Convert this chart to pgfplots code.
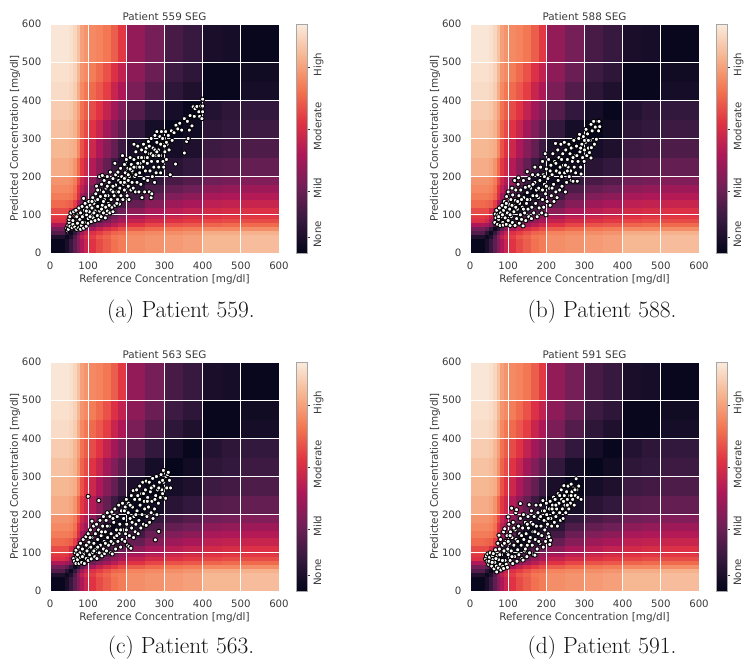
\documentclass[border=0pt]{standalone}
\usepackage{fontspec}
\setsansfont{DejaVu Sans}
\usepackage{pgfplots}
\usepackage{pgfplotstable}
\pgfplotsset{compat=1.18}
\definecolor{txt}{HTML}{3A3A3A}
\pgfplotsset{colormap={rocket}{
 rgb255(0)=(3,5,26) rgb255(1)=(53,25,62) rgb255(2)=(112,31,87) rgb255(3)=(173,23,89)
 rgb255(4)=(225,51,66) rgb255(5)=(243,118,81) rgb255(6)=(246,180,143) rgb255(7)=(250,235,221)}}
\pgfplotstableread[row sep=\\]{x y z\\
0 0 0.05\\40 0 0.25\\50 0 0.55\\60 0 0.9\\70 0 1.25\\80 0 1.6\\90 0 1.85\\100 0 2.1\\120 0 2.3\\140 0 2.45\\160 0 2.6\\180 0 2.7\\200 0 2.85\\250 0 2.9\\300 0 2.95\\350 0 3.0\\400 0 3.2\\450 0 3.2\\500 0 3.25\\600 0 3.25\\
0 40 0.3\\40 40 0.1\\50 40 0.3\\60 40 0.8\\70 40 1.35\\80 40 1.75\\90 40 2.0\\100 40 2.2\\120 40 2.4\\140 40 2.5\\160 40 2.65\\180 40 2.7\\200 40 2.85\\250 40 2.9\\300 40 2.95\\350 40 3.0\\400 40 3.2\\450 40 3.2\\500 40 3.25\\600 40 3.25\\
0 50 0.8\\40 50 0.4\\50 50 0.1\\60 50 0.5\\70 50 1.0\\80 50 1.5\\90 50 1.8\\100 50 2.05\\120 50 2.2\\140 50 2.35\\160 50 2.5\\180 50 2.55\\200 50 2.75\\250 50 2.8\\300 50 2.85\\350 50 2.9\\400 50 3.1\\450 50 3.1\\500 50 3.15\\600 50 3.15\\
0 60 1.1\\40 60 0.9\\50 60 0.5\\60 60 0.1\\70 60 0.4\\80 60 0.9\\90 60 1.25\\100 60 1.55\\120 60 1.8\\140 60 2.0\\160 60 2.15\\180 60 2.3\\200 60 2.45\\250 60 2.55\\300 60 2.65\\350 60 2.7\\400 60 2.8\\450 60 2.8\\500 60 2.85\\600 60 2.85\\
0 70 1.6\\40 70 1.5\\50 70 1.2\\60 70 0.65\\70 70 0.1\\80 70 0.3\\90 70 0.6\\100 70 1.0\\120 70 1.25\\140 70 1.5\\160 70 1.7\\180 70 1.9\\200 70 2.1\\250 70 2.25\\300 70 2.35\\350 70 2.4\\400 70 2.5\\450 70 2.55\\500 70 2.55\\600 70 2.55\\
0 80 2.05\\40 80 1.95\\50 80 1.6\\60 80 1.15\\70 80 0.6\\80 80 0.1\\90 80 0.3\\100 80 0.55\\120 80 0.85\\140 80 1.1\\160 80 1.35\\180 80 1.55\\200 80 1.8\\250 80 1.95\\300 80 2.05\\350 80 2.15\\400 80 2.25\\450 80 2.3\\500 80 2.3\\600 80 2.3\\
0 90 2.15\\40 90 2.1\\50 90 1.8\\60 90 1.4\\70 90 0.9\\80 90 0.3\\90 90 0.1\\100 90 0.3\\120 90 0.55\\140 90 0.85\\160 90 1.1\\180 90 1.35\\200 90 1.6\\250 90 1.75\\300 90 1.9\\350 90 2.0\\400 90 2.1\\450 90 2.15\\500 90 2.15\\600 90 2.15\\
0 100 2.3\\40 100 2.3\\50 100 2.0\\60 100 1.65\\70 100 1.15\\80 100 0.55\\90 100 0.35\\100 100 0.1\\120 100 0.25\\140 100 0.55\\160 100 0.8\\180 100 1.05\\200 100 1.3\\250 100 1.55\\300 100 1.7\\350 100 1.8\\400 100 1.95\\450 100 2.0\\500 100 2.05\\600 100 2.05\\
0 120 2.55\\40 120 2.5\\50 120 2.45\\60 120 2.2\\70 120 1.6\\80 120 1.1\\90 120 0.8\\100 120 0.5\\120 120 0.05\\140 120 0.2\\160 120 0.45\\180 120 0.7\\200 120 0.95\\250 120 1.25\\300 120 1.45\\350 120 1.55\\400 120 1.75\\450 120 1.8\\500 120 1.85\\600 120 1.85\\
0 140 2.7\\40 140 2.7\\50 140 2.65\\60 140 2.5\\70 140 2.0\\80 140 1.5\\90 140 1.2\\100 140 0.85\\120 140 0.35\\140 140 0.05\\160 140 0.2\\180 140 0.45\\200 140 0.65\\250 140 1.0\\300 140 1.2\\350 140 1.3\\400 140 1.55\\450 140 1.6\\500 140 1.65\\600 140 1.65\\
0 160 2.8\\40 160 2.8\\50 160 2.75\\60 160 2.6\\70 160 2.1\\80 160 1.75\\90 160 1.45\\100 160 1.1\\120 160 0.7\\140 160 0.3\\160 160 0.05\\180 160 0.2\\200 160 0.4\\250 160 0.75\\300 160 0.95\\350 160 1.05\\400 160 1.3\\450 160 1.35\\500 160 1.45\\600 160 1.45\\
0 180 2.9\\40 180 2.9\\50 180 2.85\\60 180 2.7\\70 180 2.3\\80 180 1.9\\90 180 1.65\\100 180 1.35\\120 180 0.95\\140 180 0.6\\160 180 0.25\\180 180 0.05\\200 180 0.15\\250 180 0.5\\300 180 0.7\\350 180 0.8\\400 180 1.05\\450 180 1.1\\500 180 1.2\\600 180 1.2\\
0 200 3.1\\40 200 3.1\\50 200 3.05\\60 200 2.9\\70 200 2.55\\80 200 2.15\\90 200 1.9\\100 200 1.65\\120 200 1.3\\140 200 0.95\\160 200 0.6\\180 200 0.35\\200 200 0.05\\250 200 0.2\\300 200 0.4\\350 200 0.5\\400 200 0.8\\450 200 0.85\\500 200 0.95\\600 200 0.95\\
0 250 3.2\\40 250 3.2\\50 250 3.15\\60 250 3.1\\70 250 2.8\\80 250 2.35\\90 250 2.1\\100 250 1.9\\120 250 1.6\\140 250 1.25\\160 250 0.95\\180 250 0.6\\200 250 0.25\\250 250 0.05\\300 250 0.2\\350 250 0.3\\400 250 0.6\\450 250 0.65\\500 250 0.75\\600 250 0.75\\
0 300 3.3\\40 300 3.3\\50 300 3.25\\60 300 3.15\\70 300 2.9\\80 300 2.5\\90 300 2.3\\100 300 2.1\\120 300 1.85\\140 300 1.5\\160 300 1.2\\180 300 0.9\\200 300 0.5\\250 300 0.2\\300 300 0.03\\350 300 0.15\\400 300 0.45\\450 300 0.5\\500 300 0.6\\600 300 0.6\\
0 350 3.4\\40 350 3.4\\50 350 3.35\\60 350 3.2\\70 350 3.0\\80 350 2.6\\90 350 2.45\\100 350 2.3\\120 350 2.1\\140 350 1.8\\160 350 1.5\\180 350 1.2\\200 350 0.8\\250 350 0.5\\300 350 0.2\\350 350 0.05\\400 350 0.35\\450 350 0.45\\500 350 0.5\\600 350 0.5\\
0 400 3.55\\40 400 3.55\\50 400 3.5\\60 400 3.4\\70 400 3.1\\80 400 2.8\\90 400 2.65\\100 400 2.55\\120 400 2.4\\140 400 2.2\\160 400 1.85\\180 400 1.6\\200 400 1.15\\250 400 0.8\\300 400 0.45\\350 400 0.3\\400 400 0.05\\450 400 0.05\\500 400 0.2\\600 400 0.2\\
0 450 3.6\\40 450 3.6\\50 450 3.55\\60 450 3.45\\70 450 3.2\\80 450 2.9\\90 450 2.8\\100 450 2.7\\120 450 2.55\\140 450 2.35\\160 450 2.05\\180 450 1.8\\200 450 1.3\\250 450 1.0\\300 450 0.6\\350 450 0.45\\400 450 0.05\\450 450 0.05\\500 450 0.15\\600 450 0.15\\
0 500 3.65\\40 500 3.65\\50 500 3.6\\60 500 3.5\\70 500 3.3\\80 500 3.0\\90 500 2.9\\100 500 2.8\\120 500 2.75\\140 500 2.65\\160 500 2.45\\180 500 2.15\\200 500 1.35\\250 500 1.1\\300 500 0.7\\350 500 0.55\\400 500 0.25\\450 500 0.2\\500 500 0.05\\600 500 0.05\\
0 600 3.65\\40 600 3.65\\50 600 3.6\\60 600 3.5\\70 600 3.3\\80 600 3.0\\90 600 2.9\\100 600 2.8\\120 600 2.75\\140 600 2.65\\160 600 2.45\\180 600 2.15\\200 600 1.35\\250 600 1.1\\300 600 0.7\\350 600 0.55\\400 600 0.25\\450 600 0.2\\500 600 0.05\\600 600 0.05\\
}\seg
\pgfplotstableread[row sep=\\]{x y\\
44 65\\46 58\\47 72\\48 62\\50 80\\52 70\\50 88\\52 95\\55 105\\58 66\\60 75\\62 108\\62 88\\65 68\\66 95\\68 112\\70 62\\72 78\\72 100\\75 66\\76 118\\78 88\\80 62\\80 105\\82 72\\84 122\\85 95\\88 65\\88 143\\90 80\\90 112\\92 130\\95 70\\96 100\\97 120\\100 78\\100 90\\102 135\\103 108\\105 125\\108 82\\110 118\\110 100\\112 145\\113 92\\115 130\\118 85\\118 110\\120 155\\120 138\\122 175\\124 98\\125 122\\128 88\\130 200\\130 165\\130 110\\132 148\\134 95\\135 180\\137 125\\137 203\\140 105\\140 160\\142 190\\143 140\\145 92\\146 120\\147 170\\150 110\\150 200\\152 150\\153 130\\155 185\\157 105\\158 212\\160 165\\160 140\\162 120\\165 195\\165 108\\168 150\\170 235\\170 125\\172 178\\172 205\\175 160\\177 140\\178 212\\180 190\\182 128\\183 170\\185 222\\186 150\\188 200\\190 255\\191 140\\192 180\\195 165\\195 232\\197 210\\200 190\\200 245\\202 150\\204 222\\205 175\\207 140\\208 200\\210 250\\212 165\\213 232\\215 185\\216 212\\218 170\\220 285\\220 245\\222 200\\224 160\\225 265\\226 225\\228 185\\230 280\\232 250\\233 160\\235 210\\236 235\\238 180\\240 270\\241 145\\243 225\\245 285\\246 195\\248 160\\250 250\\250 215\\252 275\\255 235\\256 190\\258 292\\260 160\\260 260\\262 215\\265 145\\265 300\\266 240\\267 155\\268 200\\270 275\\272 225\\274 185\\275 308\\276 255\\278 210\\280 290\\280 318\\282 240\\284 270\\285 225\\288 305\\290 255\\290 210\\292 318\\294 285\\296 240\\298 225\\300 300\\301 265\\303 318\\305 245\\307 285\\310 308\\312 270\\315 205\\318 320\\320 295\\325 315\\329 233\\330 335\\335 325\\340 340\\345 322\\352 262\\352 352\\358 292\\360 345\\362 300\\365 322\\367 360\\372 333\\375 383\\378 358\\380 378\\385 384\\390 370\\392 358\\395 385\\398 352\\400 370\\400 385\\400 403\\
60 85\\70 95\\85 80\\95 110\\105 95\\115 105\\125 140\\135 115\\145 150\\155 125\\165 175\\175 130\\185 185\\195 195\\205 205\\215 215\\225 205\\235 225\\245 240\\255 250\\265 260\\275 270\\285 255\\295 300\\305 290\\110 135\\125 165\\140 135\\150 175\\165 160\\180 160\\195 185\\205 190\\210 220\\220 225\\230 235\\240 250\\250 265\\260 280\\270 255\\280 265\\290 285\\300 280\\
}\ptsA
\pgfplotstableread[row sep=\\]{x y\\
65 80\\66 102\\68 92\\70 112\\72 75\\73 100\\75 88\\77 118\\79 72\\80 105\\82 95\\84 125\\86 80\\87 73\\88 112\\90 135\\92 92\\93 120\\95 75\\96 148\\98 105\\100 85\\100 160\\102 128\\104 115\\105 72\\107 140\\108 95\\110 170\\111 80\\112 152\\114 125\\115 108\\117 190\\118 72\\119 138\\120 165\\122 90\\124 115\\126 180\\127 197\\128 150\\129 78\\130 130\\132 100\\133 165\\135 88\\137 120\\139 71\\140 190\\141 145\\143 105\\145 172\\146 85\\148 130\\150 213\\150 158\\152 115\\154 95\\155 195\\157 140\\159 170\\161 90\\162 120\\164 205\\165 150\\167 105\\170 185\\170 225\\172 130\\174 165\\176 95\\178 205\\179 145\\181 118\\183 190\\185 225\\186 165\\188 105\\190 240\\190 140\\192 205\\193 120\\195 180\\197 260\\198 155\\199 100\\200 220\\202 135\\204 195\\206 245\\208 170\\210 125\\212 230\\213 150\\215 205\\217 260\\219 180\\220 135\\222 240\\224 287\\225 160\\226 215\\228 145\\230 270\\231 190\\233 250\\235 165\\236 225\\238 285\\240 200\\241 175\\243 260\\245 230\\247 290\\248 210\\250 160\\251 270\\253 185\\255 245\\257 225\\259 285\\260 200\\262 260\\264 215\\265 190\\267 275\\268 240\\270 188\\272 295\\273 225\\275 255\\277 210\\279 280\\281 188\\283 240\\285 300\\287 311\\288 265\\290 225\\291 207\\293 285\\295 250\\297 305\\299 240\\300 270\\303 290\\304 324\\306 255\\308 312\\310 275\\313 263\\315 295\\317 337\\317 249\\318 276\\320 320\\324 345\\326 285\\328 330\\331 298\\335 345\\337 320\\338 345\\340 331\\
75 95\\85 100\\95 130\\105 100\\110 125\\120 120\\125 135\\135 140\\140 115\\150 140\\155 175\\165 180\\175 150\\180 170\\190 165\\195 200\\200 175\\210 215\\215 170\\225 235\\235 210\\240 245\\250 230\\255 215\\265 275\\270 250\\280 255\\290 275\\300 295\\310 295\\
}\ptsB
\pgfplotstableread[row sep=\\]{x y\\
62 85\\64 78\\66 100\\68 107\\68 72\\70 90\\72 82\\74 115\\76 72\\78 100\\80 125\\80 88\\83 75\\85 110\\87 135\\88 95\\90 72\\92 120\\94 142\\95 85\\97 105\\100 248\\100 150\\100 80\\102 128\\104 95\\106 160\\107 115\\108 84\\110 183\\110 140\\112 100\\114 170\\115 125\\117 90\\119 150\\120 110\\122 175\\123 85\\125 135\\127 160\\128 237\\129 100\\131 185\\132 120\\134 145\\136 92\\138 170\\140 195\\140 110\\142 130\\143 98\\145 155\\147 185\\148 105\\150 205\\151 140\\153 120\\155 170\\157 195\\159 100\\160 150\\162 207\\163 97\\165 125\\167 180\\169 140\\170 215\\172 110\\174 160\\176 195\\178 130\\180 225\\181 150\\183 175\\185 115\\187 210\\189 135\\190 230\\192 160\\193 190\\196 130\\197 220\\198 150\\200 240\\201 175\\203 120\\205 205\\206 230\\207 116\\208 145\\210 190\\212 112\\213 250\\214 165\\216 220\\218 263\\219 140\\220 195\\222 240\\223 155\\225 175\\227 265\\228 210\\230 250\\231 150\\233 185\\235 275\\236 225\\238 165\\240 255\\241 200\\243 285\\245 175\\247 235\\248 215\\250 265\\252 288\\252 172\\254 195\\256 245\\258 220\\260 285\\261 180\\263 260\\265 205\\267 235\\269 295\\270 190\\272 275\\274 215\\276 134\\277 250\\279 300\\280 200\\282 265\\284 230\\285 156\\287 285\\289 245\\291 305\\293 265\\295 255\\297 316\\298 285\\300 245\\303 243\\304 300\\306 270\\308 305\\310 311\\313 290\\316 270\\
72 95\\85 90\\95 120\\105 140\\115 105\\125 115\\135 155\\145 125\\150 170\\160 130\\165 190\\175 145\\185 160\\195 210\\200 160\\210 225\\215 180\\225 200\\235 240\\245 255\\255 235\\265 270\\275 240\\285 270\\295 290\\
}\ptsC
\pgfplotstableread[row sep=\\]{x y\\
41 84\\43 92\\45 78\\47 97\\49 70\\51 88\\53 100\\55 72\\57 65\\59 92\\60 82\\61 98\\63 58\\65 75\\67 108\\69 65\\70 50\\71 92\\73 125\\74 60\\75 82\\76 146\\77 110\\79 70\\80 135\\81 55\\83 95\\85 120\\86 65\\88 155\\88 59\\89 105\\91 163\\92 80\\94 130\\95 70\\97 145\\98 62\\99 110\\100 194\\100 95\\102 175\\103 125\\105 80\\106 155\\108 105\\109 217\\110 140\\112 72\\113 180\\115 120\\117 90\\118 160\\120 205\\121 135\\122 213\\123 78\\125 108\\127 170\\128 95\\130 150\\132 229\\132 190\\134 120\\136 85\\138 165\\139 81\\140 200\\141 135\\143 105\\145 180\\147 150\\149 90\\150 120\\152 195\\153 165\\155 226\\156 100\\158 140\\160 180\\161 210\\163 120\\165 155\\166 95\\168 195\\170 94\\171 135\\173 225\\174 170\\176 110\\178 205\\179 150\\181 190\\183 125\\185 225\\186 170\\188 145\\190 210\\191 237\\192 115\\194 185\\196 160\\198 130\\200 230\\201 200\\203 175\\205 150\\207 142\\208 215\\209 122\\210 235\\211 133\\212 190\\214 170\\216 225\\218 205\\219 246\\221 180\\223 240\\225 195\\227 215\\229 170\\231 255\\233 230\\235 205\\237 185\\239 265\\240 240\\242 215\\244 190\\246 276\\247 250\\249 225\\251 205\\253 260\\255 240\\257 275\\259 215\\261 250\\263 230\\265 280\\267 260\\269 240\\271 270\\273 225\\274 268\\276 250\\278 294\\280 265\\283 245\\285 275\\291 240\\
50 78\\58 75\\68 85\\78 95\\85 80\\90 125\\100 130\\105 145\\110 90\\115 165\\125 130\\135 145\\145 110\\150 175\\155 130\\165 175\\170 155\\180 130\\185 195\\195 210\\205 190\\215 215\\225 225\\235 250\\245 235\\255 225\\265 250\\275 265\\
}\ptsD
\pgfplotsset{
 segbase/.style={scale only axis,width=229pt,height=229pt,xmin=0,xmax=600,ymin=0,ymax=600,
  xtick={0,100,...,600},ytick={0,100,...,600}},
 segaxis/.style={segbase,axis on top,colormap name=rocket,point meta min=0,point meta max=3.7,
  grid=major,grid style={white,line width=0.8pt},axis line style={draw=none},major tick style={draw=none},
  tick label style={font=\sffamily\fontsize{10.2}{12}\selectfont,text=txt,/pgf/number format/assume math mode=true},
  label style={font=\sffamily\fontsize{10.4}{12}\selectfont,text=txt},
  title style={font=\sffamily\fontsize{10.4}{12}\selectfont,text=txt,yshift=-6pt},
  xlabel={Reference Concentration [mg/dl]},ylabel={Predicted Concentration [mg/dl]},
  xlabel style={at={(axis description cs:0.5,0)},anchor=north,yshift=-18pt},
  ylabel style={yshift=-5pt},
  xticklabel style={yshift=-5pt},yticklabel style={xshift=-5pt},
  colorbar,colorbar style={at={(parent axis.south east)},anchor=south west,xshift=8.5pt,width=11pt,
   ytick={0.25,1,2,3},yticklabels={None,Mild,Moderate,High},ymin=0,ymax=3.7,
   ytick pos=right,tick align=outside,major tick length=3pt,
   major tick style={draw=txt,line width=0.6pt},
   axis line style={draw=gray!70,line width=0.5pt},
   yticklabel style={rotate=90,anchor=north,font=\sffamily\fontsize{10.2}{12}\selectfont,text=txt,xshift=3pt}}},
}
\newcommand\panel[4]{%
 \begin{axis}[at={(#1pt,#2pt)},anchor=south west,segaxis,title={#3}]
  \addplot[surf,shader=flat corner,mesh/cols=20,point meta=\thisrow{z}] table[x=x,y=y] {\seg};
 \end{axis}
 \begin{axis}[at={(#1pt,#2pt)},anchor=south west,segbase,hide axis]
  \addplot[only marks,mark=*,mark size=2.15pt,mark options={fill=white,draw=black,line width=0.9pt}] table[x=x,y=y] {#4};
 \end{axis}
}
\begin{document}
\begin{tikzpicture}[x=1pt,y=1pt]
\path[use as bounding box] (0,0) rectangle (746,658);
\panel{50}{405}{Patient 559 SEG}{\ptsA}
\panel{470}{405}{Patient 588 SEG}{\ptsB}
\panel{50}{67}{Patient 563 SEG}{\ptsC}
\panel{470}{67}{Patient 591 SEG}{\ptsD}
\node[font=\rmfamily\fontsize{23.4}{27}\selectfont,text=black!92] at (181,346) {(a) Patient 559.};
\node[font=\rmfamily\fontsize{23.4}{27}\selectfont,text=black!92] at (602,346) {(b) Patient 588.};
\node[font=\rmfamily\fontsize{23.4}{27}\selectfont,text=black!92] at (181,10) {(c) Patient 563.};
\node[font=\rmfamily\fontsize{23.4}{27}\selectfont,text=black!92] at (602,10) {(d) Patient 591.};
\end{tikzpicture}
\end{document}
